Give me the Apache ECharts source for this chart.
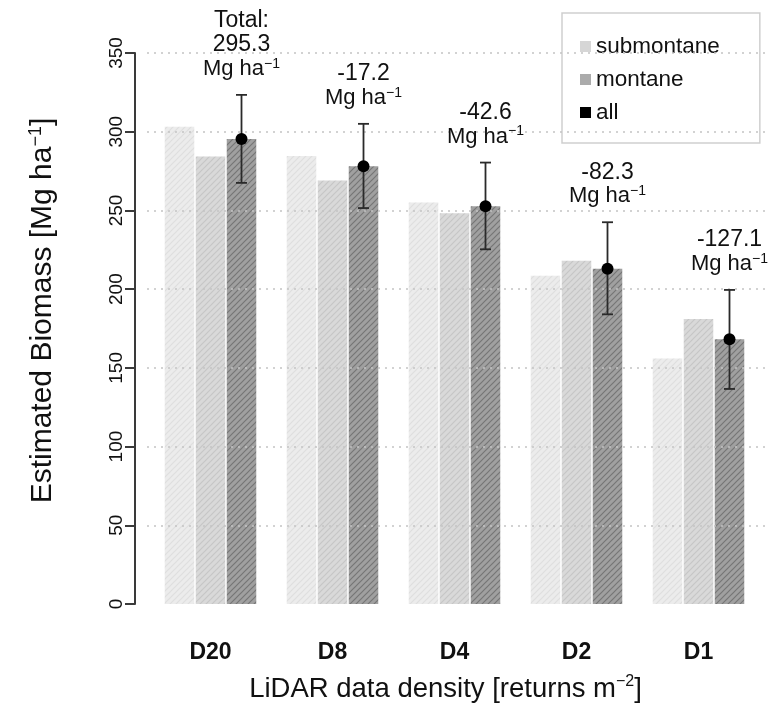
<!DOCTYPE html>
<html>
<head>
<meta charset="utf-8">
<script src="https://cdn.jsdelivr.net/npm/echarts@6/dist/echarts.min.js"></script>
<style>
  html, body { margin: 0; padding: 0; background: #fff; }
  #main { width: 770px; height: 722px; }
</style>
</head>
<body>
<div id="main"></div>
<script>
// estimated biomass per LiDAR density
const categories = ['D20', 'D8', 'D4', 'D2', 'D1']
const submontane = [303.2, 284.5, 255.0, 208.5, 156.0]
const montane = [284.2, 269.0, 248.2, 218.0, 181.0]
const allSites = [295.3, 278.1, 252.7, 213.0, 168.2]
const errLower = [267.5, 251.5, 225.3, 184.0, 136.6]
const errUpper = [323.4, 305.0, 280.4, 242.5, 199.5]
const diffLabels = ['Total:\n295.3', '-17.2', '-42.6', '-82.3', '-127.1']
const yTicks = [0, 50, 100, 150, 200, 250, 300, 350]

const FONT = '"Liberation Sans", Arial, Helvetica, sans-serif'
const BAR_W = 29.5
const BAR_GAP = 1.5

// diagonal hatch fill like the printed figure
function hatch (bg, line) {
  const c = document.createElement('canvas')
  c.width = 6
  c.height = 6
  const ctx = c.getContext('2d')
  ctx.fillStyle = bg
  ctx.fillRect(0, 0, 6, 6)
  ctx.strokeStyle = line
  ctx.lineWidth = 1.2
  ctx.beginPath()
  ctx.moveTo(0, 6); ctx.lineTo(6, 0)
  ctx.moveTo(-1, 1); ctx.lineTo(1, -1)
  ctx.moveTo(5, 7); ctx.lineTo(7, 5)
  ctx.stroke()
  return { image: c, repeat: 'repeat' }
}

const supRich = {
  v: { fontFamily: FONT, fontSize: 23, lineHeight: 24, color: '#111' },
  u: { fontFamily: FONT, fontSize: 22, lineHeight: 24, color: '#111' },
  s: { fontFamily: FONT, fontSize: 14, lineHeight: 24, color: '#111', verticalAlign: 'top' }
}

let myChart = echarts.init(document.getElementById('main'))

let option = {
  backgroundColor: '#fff',
  animation: false,
  textStyle: { fontFamily: FONT },
  legend: {
    orient: 'vertical',
    left: 562,
    top: 13,
    width: 200,
    padding: [22, 40, 19, 18],
    itemWidth: 11,
    itemHeight: 11,
    itemGap: 10,
    borderColor: '#cfcfcf',
    borderWidth: 1.5,
    borderRadius: 0,
    icon: 'rect',
    textStyle: { fontFamily: FONT, fontSize: 22.5, color: '#111', lineHeight: 23 },
    data: [
      { name: 'submontane', itemStyle: { color: '#d6d6d6' } },
      { name: 'montane', itemStyle: { color: '#ababab' } },
      { name: 'all', itemStyle: { color: '#000' } }
    ]
  },
  grid: [
    { left: 149.5, width: 610, top: 53, height: 551 },
    { left: 147, right: 0, top: 53, height: 551 }
  ],
  xAxis: [
    {
      type: 'category',
      data: categories,
      axisLine: { show: false },
      axisTick: { show: false },
      axisLabel: {
        margin: 37,
        fontFamily: FONT,
        fontSize: 23,
        fontWeight: 'bold',
        color: '#111'
      },
      name: 'LiDAR data density [returns m{s|−2}]',
      nameLocation: 'middle',
      nameGap: 70,
      nameTextStyle: {
        fontFamily: FONT,
        fontSize: 27.5,
        color: '#111',
        padding: [0, 18, 0, 0],
        rich: {
          s: { fontFamily: FONT, fontSize: 16, color: '#111', verticalAlign: 'top', lineHeight: 30 }
        }
      }
    },
    {
      type: 'value',
      gridIndex: 1,
      show: false
    }
  ],
  yAxis: [
    {
      type: 'value',
      min: yTicks[0],
      max: yTicks[yTicks.length - 1],
      interval: 50,
      offset: 14.5,
      axisLine: { show: true, lineStyle: { color: '#3a3a3a', width: 2 } },
      axisTick: { show: true, inside: false, length: 10, lineStyle: { color: '#3a3a3a', width: 2 } },
      splitLine: { show: false },
      axisLabel: {
        rotate: 90,
        margin: 9,
        fontFamily: FONT,
        fontSize: 19,
        color: '#111'
      },
      name: 'Estimated Biomass [Mg ha{s|−1}]',
      nameLocation: 'middle',
      nameGap: 76,
      nameTextStyle: {
        fontFamily: FONT,
        fontSize: 30,
        color: '#111',
        padding: [0, 0, 0, 36],
        rich: {
          s: { fontFamily: FONT, fontSize: 18, color: '#111', verticalAlign: 'top', lineHeight: 32 }
        }
      }
    },
    {
      type: 'value',
      gridIndex: 1,
      min: yTicks[0],
      max: yTicks[yTicks.length - 1],
      interval: 50,
      z: 5,
      axisLine: { show: false },
      axisTick: { show: false },
      axisLabel: { show: false },
      splitLine: {
        show: true,
        showMinLine: false,
        lineStyle: { color: '#c4c4c4', width: 1.5, type: [2, 5] }
      }
    }
  ],
  series: [
    {
      name: 'submontane',
      type: 'bar',
      barWidth: BAR_W,
      barGap: (BAR_GAP / BAR_W * 100) + '%',
      itemStyle: { color: hatch('#ececec', '#dedede') },
      data: submontane
    },
    {
      name: 'montane',
      type: 'bar',
      barWidth: BAR_W,
      barGap: (BAR_GAP / BAR_W * 100) + '%',
      itemStyle: { color: hatch('#d9d9d9', '#c6c6c6') },
      data: montane
    },
    {
      name: 'all',
      type: 'bar',
      barWidth: BAR_W,
      barGap: (BAR_GAP / BAR_W * 100) + '%',
      itemStyle: { color: hatch('#a0a0a0', '#767676') },
      data: allSites
    },
    {
      // error bars, means and differences, sitting on the "all" bar
      type: 'custom',
      z: 10,
      data: categories.map(function (c, i) {
        return [i, allSites[i], errLower[i], errUpper[i]]
      }),
      encode: { x: 0, y: [1, 2, 3] },
      renderItem: function (params, api) {
        const i = api.value(0)
        const x = api.coord([i, 0])[0] + BAR_W + BAR_GAP
        const yM = api.coord([i, api.value(1)])[1]
        const yL = api.coord([i, api.value(2)])[1]
        const yH = api.coord([i, api.value(3)])[1]
        const stroke = { stroke: '#2a2a2a', lineWidth: 1.8 }
        const txt = diffLabels[i].split('\n').map(function (s) {
          return '{v|' + s + '}'
        }).join('\n') + '\n{u|Mg ha}{s|−1}'
        return {
          type: 'group',
          children: [
            { type: 'line', shape: { x1: x, y1: yL, x2: x, y2: yH }, style: stroke },
            { type: 'line', shape: { x1: x - 5.5, y1: yH, x2: x + 5.5, y2: yH }, style: stroke },
            { type: 'line', shape: { x1: x - 5.5, y1: yL, x2: x + 5.5, y2: yL }, style: stroke },
            { type: 'circle', shape: { cx: x, cy: yM, r: 6 }, style: { fill: '#000' } },
            {
              type: 'text',
              x: x,
              y: yH - 14,
              style: {
                text: txt,
                align: 'center',
                verticalAlign: 'bottom',
                fill: '#111',
                rich: supRich
              }
            }
          ]
        }
      }
    }
  ]
}
myChart.setOption(option)
</script>
</body>
</html>
